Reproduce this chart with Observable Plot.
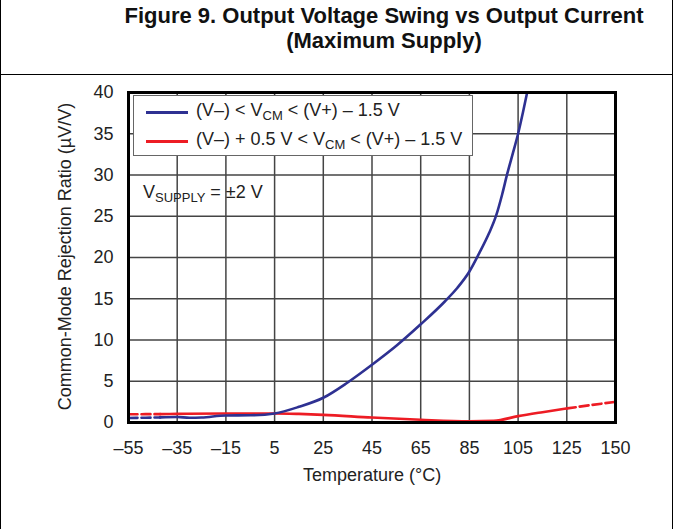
<!DOCTYPE html>
<html><head><meta charset="utf-8">
<script src="https://cdn.jsdelivr.net/npm/d3@7"></script>
<script src="https://cdn.jsdelivr.net/npm/@observablehq/plot@0.6"></script>
<style>
body{margin:0;background:#fff;font-family:"Liberation Sans",Arial,sans-serif;color:#222}
#wrap{position:relative;width:673px;height:529px;overflow:hidden;background:#fff}
#title{position:absolute;left:84px;width:600px;top:3px;text-align:center;font-weight:bold;font-size:22px;line-height:25px;color:#111}
.vline{position:absolute;top:0;height:529px;width:1px;background:#000;z-index:5}
#hline{position:absolute;left:0;width:673px;top:74px;height:1px;background:#000;z-index:5}
#chart{position:absolute;left:0;top:75px}
#legend{position:absolute;left:133px;top:95px;width:338px;height:59px;border:1px solid #666;background:#fff;z-index:3}
.sw{position:absolute;left:12px;width:42px;height:3px}
.lt{position:absolute;left:62px;font-size:18px;line-height:20px;white-space:nowrap;color:#222}
sub{font-size:13px;vertical-align:-4px;line-height:0}
#vs{position:absolute;left:143px;top:182px;font-size:18px;line-height:20px;white-space:nowrap;color:#222;z-index:3}
</style></head>
<body>
<div id="wrap">
  <div id="title">Figure 9. Output Voltage Swing vs Output Current<br>(Maximum Supply)</div>
  <div class="vline" style="left:0"></div>
  <div class="vline" style="left:672px"></div>
  <div id="hline"></div>
  <div id="chart"></div>
  <div id="legend">
    <div class="sw" id="sw1" style="top:15px"></div>
    <div class="lt" style="top:4px">(V–) &lt; V<sub>CM</sub> &lt; (V+) – 1.5 V</div>
    <div class="sw" id="sw2" style="top:44px"></div>
    <div class="lt" style="top:33px">(V–) + 0.5 V &lt; V<sub>CM</sub> &lt; (V+) – 1.5 V</div>
  </div>
  <div id="vs">V<sub>SUPPLY</sub> = ±2 V</div>
</div>
<script>
const ticksT = [-55, -35, -15, 5, 25, 45, 65, 85, 105, 125, 150];
const ticksV = [0, 5, 10, 15, 20, 25, 30, 35, 40];
const xLabel = "Temperature (°C)";
const yLabel = "Common-Mode Rejection Ratio (µV/V)";
const blueT = [-55, -48, -42, -35, -30, -25, -15, -5, 5, 15, 25, 35, 45, 55, 65, 75, 80, 85, 89, 93, 96, 98.5, 100.5, 103, 105, 107, 109];
const blueV = [0.55, 0.58, 0.62, 0.67, 0.57, 0.6, 0.85, 0.87, 1.1, 1.9, 3.0, 4.85, 7.0, 9.3, 11.9, 14.7, 16.3, 18.3, 20.5, 22.9, 25.1, 27.7, 30.1, 32.8, 35, 37.6, 40.4];
const redT = [-55, -48, -42, -35, -15, 5, 15, 25, 45, 65, 85, 95, 105, 115, 125, 137, 150];
const redV = [1.0, 1.01, 1.02, 1.05, 1.1, 1.1, 1.04, 0.93, 0.6, 0.33, 0.15, 0.2, 0.77, 1.25, 1.7, 2.1, 2.5];
const colors = ["#2e3192", "#ed1c24"];

const blue = blueT.map((t, i) => ({t, v: blueV[i]}));
const red = redT.map((t, i) => ({t, v: redV[i]}));
const dashEnd = -42, redDashStart = 125;

document.getElementById("sw1").style.background = colors[0];
document.getElementById("sw2").style.background = colors[1];

const fmt = d => d < 0 ? "–" + Math.abs(d) : String(d);
const lineOpts = (c, dash) => ({x: "t", y: "v", stroke: c, strokeWidth: 2.6, curve: "monotone-x", strokeDasharray: dash ? "9,4" : null, clip: true});

const chart = Plot.plot({
  width: 673,
  height: 454,
  marginLeft: 128,
  marginRight: 58,
  marginTop: 17,
  marginBottom: 107,
  style: {fontSize: "18px", fontFamily: "'Liberation Sans', Arial, sans-serif", background: "transparent", color: "#222", overflow: "visible"},
  x: {type: "linear", domain: [-55, 125, 150], range: [128, 566.3, 615]},
  y: {domain: [0, 40]},
  marks: [
    Plot.gridX(ticksT, {stroke: "#444", strokeOpacity: 1, strokeWidth: 1.5}),
    Plot.gridY(ticksV, {stroke: "#444", strokeOpacity: 1, strokeWidth: 1.5}),
    Plot.axisX(ticksT, {tickSize: 0, tickPadding: 19, tickFormat: fmt, label: null}),
    Plot.axisY(ticksV, {tickSize: 0, tickPadding: 15, label: null}),
    Plot.text([xLabel], {frameAnchor: "bottom", dy: 53, text: d => d, textAnchor: "middle", lineAnchor: "middle", fill: "#222"}),
    Plot.text([yLabel], {frameAnchor: "left", dx: -63, dy: -1, rotate: -90, text: d => d, textAnchor: "middle", lineAnchor: "middle", fill: "#222"}),
    Plot.line(red.filter(d => d.t <= dashEnd), lineOpts(colors[1], true)),
    Plot.line(red.filter(d => d.t >= dashEnd && d.t <= redDashStart), lineOpts(colors[1], false)),
    Plot.line(red.filter(d => d.t >= redDashStart), lineOpts(colors[1], true)),
    Plot.line(blue.filter(d => d.t <= dashEnd), lineOpts(colors[0], true)),
    Plot.line(blue.filter(d => d.t >= dashEnd), lineOpts(colors[0], false)),
    Plot.frame({stroke: "#000", strokeWidth: 3})
  ]
});
document.getElementById("chart").appendChild(chart);
</script>
</body></html>
